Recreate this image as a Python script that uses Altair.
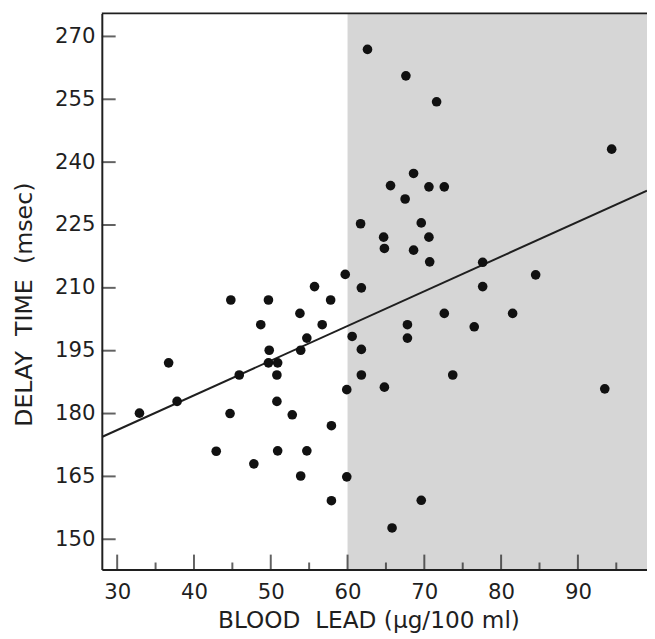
import altair as alt
import pandas as pd

# Blood lead (µg/100 ml) and delay time (msec) for each subject
lead = [32.9, 36.7, 37.8, 42.9, 44.7, 44.8, 45.9, 47.8, 48.7, 49.7,
        49.8, 49.7, 50.9, 50.8, 50.8, 50.9, 52.8, 53.8, 53.9, 53.9,
        54.7, 54.7, 55.7, 56.7, 57.8, 57.9, 57.9, 59.7, 59.9, 59.9,
        60.6, 61.7, 61.8, 61.8, 61.8, 62.6, 64.7, 64.8, 64.8, 65.6,
        65.8, 67.5, 67.6, 67.8, 67.8, 68.6, 68.6, 69.6, 69.6, 70.6,
        70.6, 70.7, 71.6, 72.6, 72.6, 73.7, 76.5, 77.6, 77.6, 81.5,
        84.5, 93.5, 94.4]
delay = [180.1, 192.1, 182.9, 171.0, 180.0, 207.1, 189.2, 168.0, 201.2, 207.1,
         195.1, 192.1, 192.1, 189.2, 182.9, 171.1, 179.7, 203.9, 195.1, 165.1,
         198.0, 171.1, 210.3, 201.2, 207.1, 177.1, 159.2, 213.2, 185.7, 164.9,
         198.4, 225.3, 210.0, 195.3, 189.2, 266.9, 222.1, 219.4, 186.3, 234.4,
         152.7, 231.2, 260.6, 201.2, 198.0, 237.3, 219.0, 225.5, 159.3, 234.1,
         222.1, 216.2, 254.4, 234.1, 203.9, 189.2, 200.7, 216.1, 210.3, 203.9,
         213.1, 185.9, 243.1]

# Regression line end points
line_lead = [28, 99]
line_delay = [174.4, 233.2]

# Shaded region (blood lead >= 60)
shade_start = [60]
shade_end = [99]

# Axis ticks
y_ticks = [150, 165, 180, 195, 210, 225, 240, 255, 270]
x_major = [30, 40, 50, 60, 70, 80, 90]
x_minor = [35, 45, 55, 65, 75, 85, 95]

W, H = 552, 563
FONT = "DejaVu Sans"
INK = "#1f1f1f"
NB = "\u00a0"

xs = alt.Scale(domain=[28, 99], nice=False, zero=False)
ys = alt.Scale(domain=[142.8, 275.5], nice=False, zero=False)

xaxis = alt.Axis(values=x_major, ticks=False, tickSize=0, grid=False,
                 domainColor=INK, domainWidth=2,
                 labelFont=FONT, labelFontSize=21.5, labelColor=INK,
                 labelPadding=12, labelFlush=False,
                 title="BLOOD" + NB + NB + "LEAD" + NB + "(µg/100" + NB + "ml)",
                 titleFont=FONT,
                 titleFontSize=23.5, titleFontWeight="normal", titleColor=INK,
                 titleX=270, titleY=58.7, titleBaseline="alphabetic",
                 titleAlign="center", zindex=1)
yaxis = alt.Axis(values=y_ticks, ticks=False, tickSize=0, grid=False,
                 domainColor=INK, domainWidth=2,
                 labelFont=FONT, labelFontSize=21.5, labelColor=INK,
                 labelPadding=7,
                 title="DELAY" + NB + NB + "TIME" + NB + NB + "(msec)",
                 titleFont=FONT,
                 titleFontSize=24, titleFontWeight="normal", titleColor=INK,
                 titleAngle=270, titleX=-71, titleY=294.5,
                 titleBaseline="alphabetic", titleAlign="center", zindex=1)

X = alt.X("x:Q", scale=xs, axis=xaxis)
Y = alt.Y("y:Q", scale=ys, axis=yaxis)

pts = pd.DataFrame({"x": lead, "y": delay})
shade_df = pd.DataFrame({"x": shade_start, "x2": shade_end})
line_df = pd.DataFrame({"x": line_lead, "y": line_delay})
yt_df = pd.DataFrame({"y": y_ticks})
xmaj_df = pd.DataFrame({"x": x_major})
xmin_df = pd.DataFrame({"x": x_minor})
one = pd.DataFrame({"a": [0]})

shade = alt.Chart(shade_df).mark_rect(color="#d6d6d6").encode(
    x=X, x2="x2:Q", y=alt.value(0), y2=alt.value(H))
reg = alt.Chart(line_df).mark_line(color=INK, strokeWidth=2, clip=True).encode(x=X, y=Y)
dots = alt.Chart(pts).mark_circle(size=95, color="#111111", opacity=1).encode(x=X, y=Y)
yt = alt.Chart(yt_df).mark_tick(orient="horizontal", size=14, thickness=2, color=INK).encode(
    y=Y, x=alt.value(7))
xmaj = alt.Chart(xmaj_df).mark_tick(orient="vertical", size=15, thickness=2, color=INK).encode(
    x=X, y=alt.value(H - 7.5))
xmin = alt.Chart(xmin_df).mark_tick(orient="vertical", size=7, thickness=2, color=INK).encode(
    x=X, y=alt.value(H - 3.5))
top = alt.Chart(one).mark_rule(color=INK, strokeWidth=2).encode(
    x=alt.value(0), x2=alt.value(W), y=alt.value(0))

chart = alt.layer(shade, reg, dots, yt, xmaj, xmin, top).properties(
    width=W, height=H,
    padding={"left": 95, "top": 1.5, "right": 0, "bottom": 66.5},
    autosize=alt.AutoSizeParams(type="none"),
    background="white",
).configure_view(stroke=None)

chart.save("out.html", embed_options={"renderer": "svg", "actions": False})
